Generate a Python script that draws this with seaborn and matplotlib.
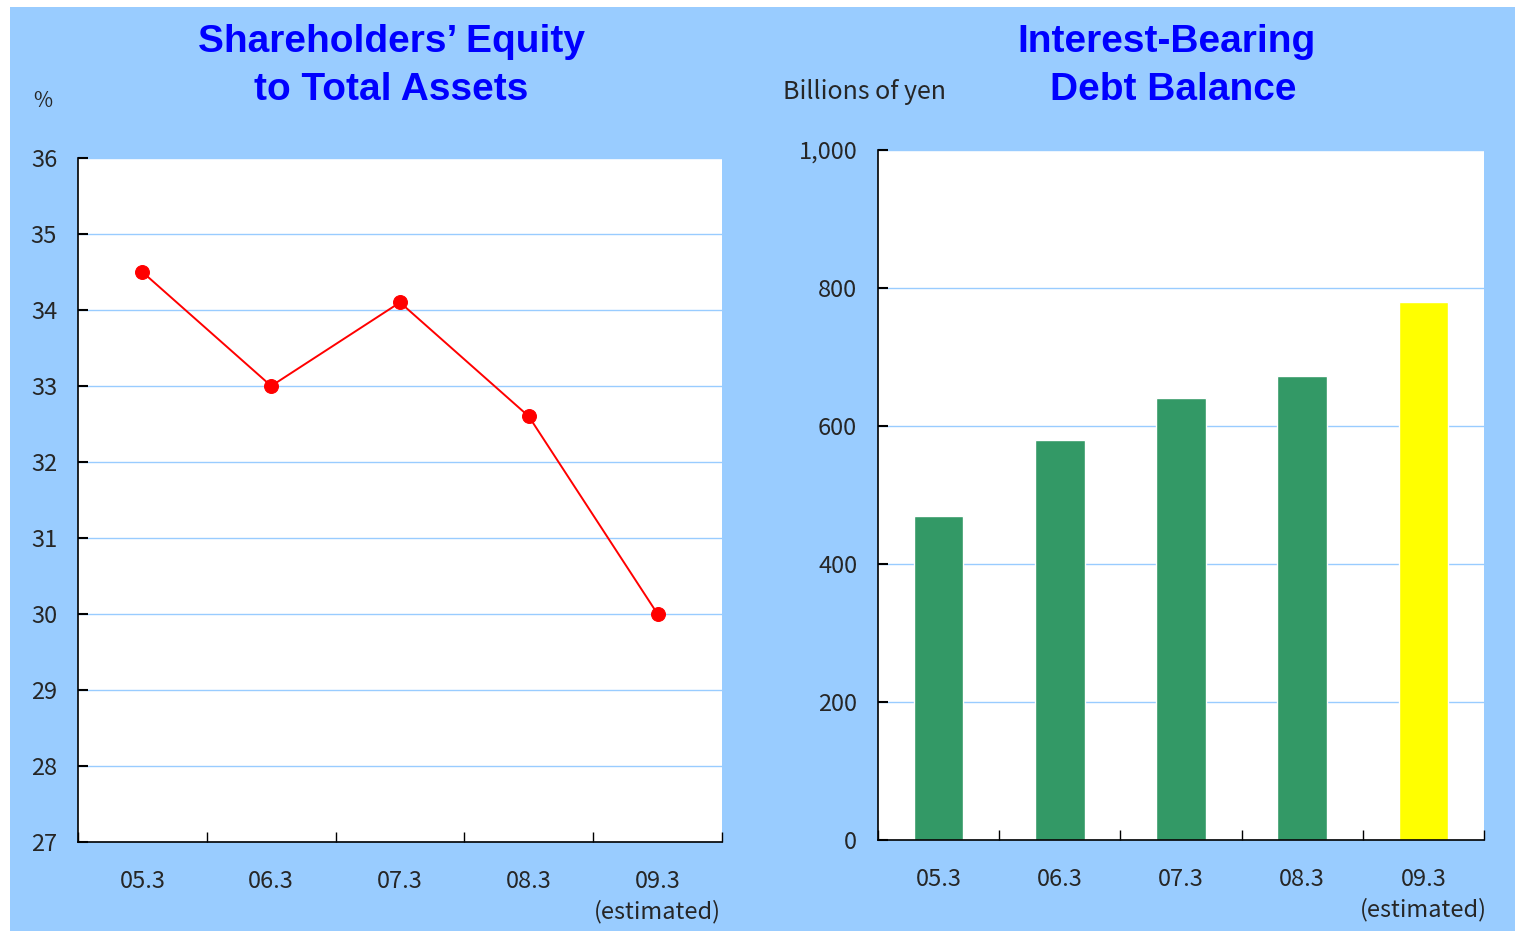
import numpy as np
import matplotlib.pyplot as plt
import seaborn as sns
from matplotlib.patches import Rectangle

# data
periods = ["05.3", "06.3", "07.3", "08.3", "09.3"]
period_labels = ["05.3", "06.3", "07.3", "08.3", "09.3\n(estimated)"]
equity_ratio = [34.5, 33.0, 34.1, 32.6, 30.0]
debt_balance = [470, 580, 640, 672, 780]
equity_ticks = [27, 28, 29, 30, 31, 32, 33, 34, 35, 36]
debt_ticks = [0, 200, 400, 600, 800, 1000]
debt_tick_labels = ["0", "200", "400", "600", "800", "1,000"]

BG = "#99CCFF"
GRID = "#99CCFF"
TITLE_BLUE = "#0000FF"
GREEN = "#339966"
YELLOW = "#FFFF00"
TICK_FONT = ["Noto Sans CJK JP", "DejaVu Sans"]
TITLE_FONT = ["Liberation Sans", "DejaVu Sans"]

sns.set_theme(style="white")
plt.rcParams["font.family"] = TICK_FONT

fig = plt.figure(figsize=(15.15, 9.31), dpi=100, facecolor="white")
fig.patches.append(Rectangle((10 / 1515, 0), 1, 924 / 931, transform=fig.transFigure,
                             facecolor=BG, edgecolor="none", zorder=-10))

ax1 = fig.add_axes([78 / 1515, 89 / 931, 644 / 1515, 684 / 931])
ax2 = fig.add_axes([878 / 1515, 91 / 931, 606 / 1515, 690 / 931])


def style_axes(ax):
    ax.set_facecolor("white")
    for side in ["top", "right"]:
        ax.spines[side].set_visible(False)
    for side in ["left", "bottom"]:
        ax.spines[side].set_color("black")
        ax.spines[side].set_linewidth(1.2)
    ax.yaxis.grid(True, color=GRID, linewidth=1.0)
    ax.xaxis.grid(False)
    ax.set_axisbelow(True)
    ax.set_xlim(-0.5, 4.5)
    ax.set_xticks(range(len(period_labels)))
    ax.set_xticklabels(period_labels, fontsize=17, linespacing=1.4)
    ax.set_xticks(np.arange(-0.5, 5, 1.0), minor=True)
    ax.tick_params(axis="x", which="major", bottom=True, length=0, pad=20)
    ax.tick_params(axis="x", which="minor", bottom=True, direction="in", length=7,
                   width=1.0, color="black")
    ax.tick_params(axis="y", which="major", left=True, direction="in", length=7, width=1.5,
                   color="black", labelsize=17, pad=15)
    ax.set_xlabel("")
    ax.set_ylabel("")


# left: shareholders' equity ratio
sns.lineplot(x=list(range(len(periods))), y=equity_ratio, ax=ax1, color="#FF0000",
             linewidth=1.4, marker="o", markersize=10, markeredgecolor="#FF0000")
ax1.set_ylim(27, 36)
ax1.set_yticks(equity_ticks)
style_axes(ax1)

# right: interest-bearing debt
sns.barplot(x=periods, y=debt_balance, hue=periods, palette=[GREEN] * 4 + [YELLOW],
            saturation=1, width=0.41, legend=False, ax=ax2)
ax2.set_ylim(0, 1000)
ax2.set_yticks(debt_ticks)
ax2.set_yticklabels(debt_tick_labels)
style_axes(ax2)

# titles and unit labels
title_kw = dict(ha="center", va="baseline", fontsize=28, fontweight="bold",
                color=TITLE_BLUE, family=TITLE_FONT)
fig.text(391 / 1515, 1 - 52 / 931, "Shareholders\u2019 Equity", **title_kw)
fig.text(391 / 1515, 1 - 100 / 931, "to Total Assets", **title_kw)
fig.text(1167 / 1515, 1 - 52 / 931, "Interest-Bearing", **title_kw)
fig.text(1173 / 1515, 1 - 100 / 931, "Debt Balance", **title_kw)
fig.text(43 / 1515, 1 - 101 / 931, "%", ha="center", va="center", fontsize=15)
fig.text(783 / 1515, 1 - 92 / 931, "Billions of yen", ha="left", va="center", fontsize=18)

fig.savefig("out.png", dpi=100, facecolor=fig.get_facecolor())
